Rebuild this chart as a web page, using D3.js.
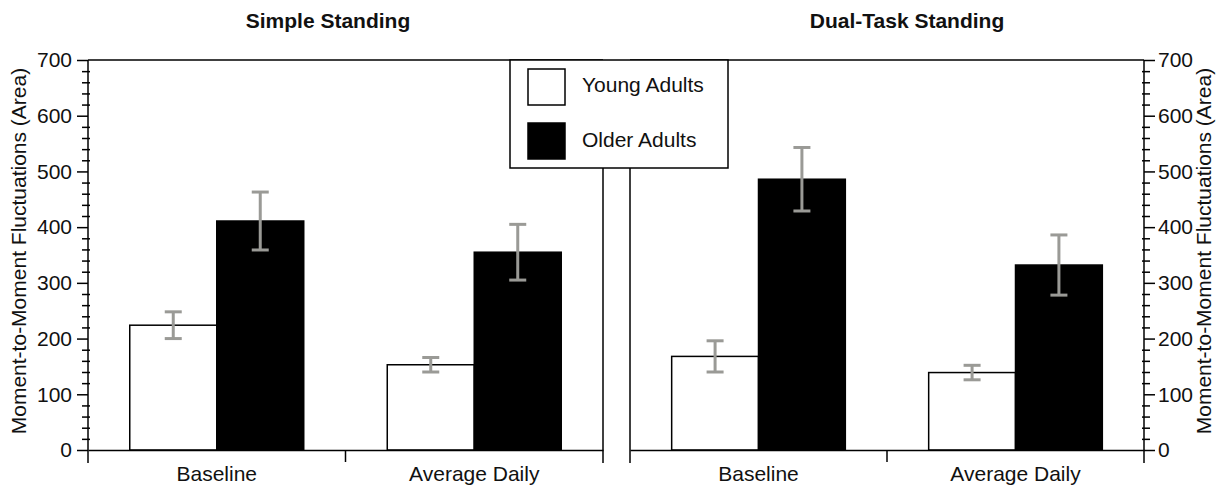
<!DOCTYPE html>
<html>
<head>
<meta charset="utf-8">
<script src="https://cdn.jsdelivr.net/npm/d3@7.9.0/dist/d3.min.js"></script>
<style>
  body { margin: 0; background: #fff; }
  svg { display: block; font-family: "Liberation Sans", Arial, Helvetica, sans-serif; }
</style>
</head>
<body>
<svg id="chart" width="1221" height="489"></svg>
<script>
// data
const panelTitles = ['Simple Standing', 'Dual-Task Standing'];
const categories = ['Baseline', 'Average Daily'];
const groups = ['Young Adults', 'Older Adults'];

const simpleYoung = [224, 153];
const simpleYoungErr = [24, 13];
const simpleOlder = [411, 355];
const simpleOlderErr = [52, 50];

const dualYoung = [168, 139];
const dualYoungErr = [28, 13];
const dualOlder = [486, 332];
const dualOlderErr = [57, 54];

const yMajor = [0, 100, 200, 300, 400, 500, 600, 700];
const yTitle = 'Moment-to-Moment Fluctuations (Area)';

const panels = [
  { title: panelTitles[0], x0: 88, x1: 603, titleX: 328,
    series: [
      { name: groups[0], values: simpleYoung, err: simpleYoungErr },
      { name: groups[1], values: simpleOlder, err: simpleOlderErr }
    ] },
  { title: panelTitles[1], x0: 630, x1: 1144, titleX: 907,
    series: [
      { name: groups[0], values: dualYoung, err: dualYoungErr },
      { name: groups[1], values: dualOlder, err: dualOlderErr }
    ] }
];

const fill = d3.scaleOrdinal(groups, ['#fff', '#000']);
const fontSize = '21px';
const plotTop = 60, plotBottom = 450;

const svg = d3.select('#chart');
const y = d3.scaleLinear().domain([0, 700]).range([plotBottom, plotTop]);
const yMinor = d3.range(0, 701, 20).filter(v => v % 100 !== 0);

panels.forEach((p) => {
  const x = d3.scaleBand().domain(categories).range([p.x0, p.x1]);
  const inner = d3.scaleBand().domain(groups).range([0, x.bandwidth()])
    .paddingInner(0).paddingOuter(0.48);

  // frame: top and both sides
  const frame = svg.append('g').attr('stroke', '#000').attr('stroke-width', 1.5).attr('fill', 'none');
  frame.append('line').attr('x1', p.x0).attr('x2', p.x1).attr('y1', plotTop).attr('y2', plotTop);
  frame.append('line').attr('x1', p.x0).attr('x2', p.x0).attr('y1', plotTop).attr('y2', plotBottom + 13);
  frame.append('line').attr('x1', p.x1).attr('x2', p.x1).attr('y1', plotTop).attr('y2', plotBottom + 13);

  // bars
  const bars = svg.append('g');
  p.series.forEach(s => {
    bars.selectAll(null)
      .data(categories.map((c, i) => ({ c, v: s.values[i] })))
      .join('rect')
      .attr('x', d => x(d.c) + inner(s.name))
      .attr('y', d => y(d.v))
      .attr('width', inner.bandwidth())
      .attr('height', d => y(0) - y(d.v))
      .attr('fill', fill(s.name))
      .attr('stroke', '#000')
      .attr('stroke-width', 1.5);
  });

  // error bars
  const errs = svg.append('g').attr('stroke', '#9a9a96').attr('stroke-width', 3).attr('fill', 'none');
  p.series.forEach(s => {
    categories.forEach((c, i) => {
      const cx = x(c) + inner(s.name) + inner.bandwidth() / 2;
      const hi = y(s.values[i] + s.err[i]);
      const lo = y(s.values[i] - s.err[i]);
      errs.append('line').attr('x1', cx).attr('x2', cx).attr('y1', hi).attr('y2', lo);
      errs.append('line').attr('x1', cx - 8.5).attr('x2', cx + 8.5).attr('y1', hi).attr('y2', hi);
      errs.append('line').attr('x1', cx - 8.5).attr('x2', cx + 8.5).attr('y1', lo).attr('y2', lo);
    });
  });

  // x axis: baseline, boundary tick, category labels
  const xb = svg.append('g').attr('transform', `translate(0,${plotBottom})`)
    .call(d3.axisBottom(x).tickSize(0).tickSizeOuter(0).tickPadding(16));
  xb.select('.domain').attr('stroke-width', 1.5);
  xb.selectAll('text').attr('font-size', fontSize).attr('fill', '#111');
  xb.attr('font-family', null);
  xb.append('line').attr('stroke', '#000').attr('stroke-width', 1.5)
    .attr('x1', x(categories[1])).attr('x2', x(categories[1])).attr('y1', 0).attr('y2', 12);

  // panel title
  svg.append('text').attr('x', p.titleX).attr('y', 28)
    .attr('text-anchor', 'middle').attr('font-weight', 'bold')
    .attr('font-size', fontSize).attr('fill', '#111').text(p.title);
});

// y axes, left on first panel, right on second
function yAxis(side, xPos) {
  const isLeft = side === 'left';
  const g = svg.append('g').attr('transform', `translate(${xPos},0)`);
  const major = (isLeft ? d3.axisLeft(y) : d3.axisRight(y))
    .tickValues(yMajor).tickSize(11).tickSizeOuter(0).tickPadding(isLeft ? 5 : 3);
  g.call(major);
  g.attr('font-family', null);
  g.select('.domain').remove();
  g.selectAll('line').attr('stroke-width', 1.5);
  g.selectAll('text').attr('font-size', fontSize).attr('fill', '#111');

  const mg = svg.append('g').attr('transform', `translate(${xPos},0)`);
  mg.call((isLeft ? d3.axisLeft(y) : d3.axisRight(y)).tickValues(yMinor).tickSize(6).tickSizeOuter(0).tickFormat(''));
  mg.select('.domain').remove();
  mg.selectAll('line').attr('stroke-width', 1.5)
    .attr('x1', isLeft ? 2 : -2);

  const tx = isLeft ? 19 : 1204;
  svg.append('text')
    .attr('transform', `translate(${tx},${(plotTop + plotBottom) / 2 - 4}) rotate(-90)`)
    .attr('text-anchor', 'middle').attr('dy', '0.35em')
    .attr('font-size', fontSize).attr('fill', '#111').text(yTitle);
}
yAxis('left', panels[0].x0);
yAxis('right', panels[1].x1);

// legend
const lg = svg.append('g');
lg.append('rect').attr('x', 510).attr('y', plotTop).attr('width', 218).attr('height', 108)
  .attr('fill', '#fff').attr('stroke', '#000').attr('stroke-width', 1.5);
groups.forEach((gname, i) => {
  lg.append('rect').attr('x', 528).attr('y', 69 + i * 54).attr('width', 37).attr('height', 36)
    .attr('fill', fill(gname)).attr('stroke', '#000').attr('stroke-width', 1.5);
  lg.append('text').attr('x', 582).attr('y', 92 + i * 55)
    .attr('font-size', fontSize).attr('fill', '#111').text(gname);
});
</script>
</body>
</html>
